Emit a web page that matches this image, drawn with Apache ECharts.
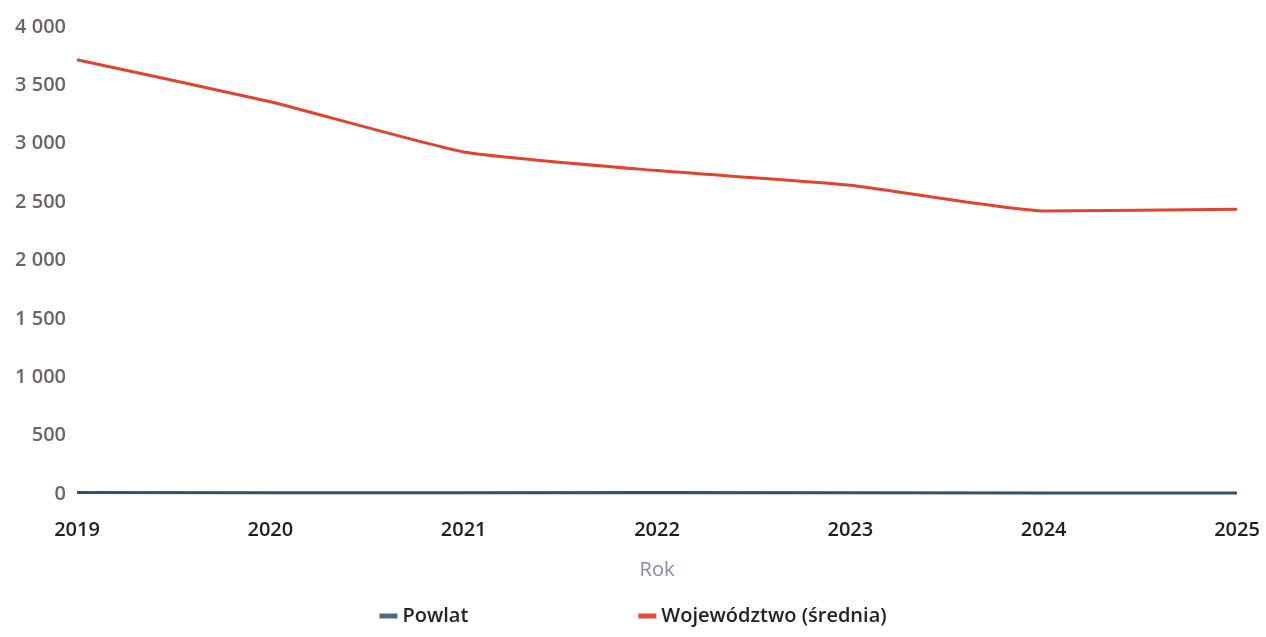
<!DOCTYPE html>
<html lang="pl">

<head>
    <meta charset="UTF-8">
    <title>Powlat / Województwo</title>
    <style>
        html, body { margin: 0; padding: 0; background: #ffffff; }
        #chart { width: 1266px; height: 637px; }
    </style>
</head>

<body>

    <div id="chart"></div>

    <script src="https://cdn.jsdelivr.net/npm/echarts@6/dist/echarts.min.js"></script>
    <script>
        // dane
        const years = ['2019', '2020', '2021', '2022', '2023', '2024', '2025'];
        const powlat = [12, 10, 11, 12, 10, 9, 9];
        const wojewodztwo = [3720, 3360, 2930, 2770, 2645, 2425, 2440];
        const yTicks = [0, 500, 1000, 1500, 2000, 2500, 3000, 3500, 4000];

        const myChart = echarts.init(document.getElementById('chart'));

        // "4 000" - spacja jako separator tysięcy
        function fmt(v) {
            return String(v).replace(/\B(?=(\d{3})+(?!\d))/g, ' ');
        }

        const option = {
            animation: false,
            textStyle: { fontFamily: 'Open Sans' },
            grid: {
                left: 77,
                right: 29,
                top: 27,
                bottom: 143
            },
            legend: {
                left: 'center',
                bottom: 6,
                itemWidth: 18,
                itemHeight: 5,
                itemGap: 170,
                icon: 'rect',
                textStyle: { fontSize: 20, fontWeight: 600, color: '#222222', fontFamily: 'Open Sans' },
                data: ['Powlat', 'Województwo (średnia)']
            },
            xAxis: {
                type: 'category',
                data: years,
                boundaryGap: false,
                name: 'Rok',
                nameLocation: 'middle',
                nameGap: 66,
                nameTextStyle: { fontSize: 20, color: '#8c85b5' },
                axisLine: { show: false },
                axisTick: { show: false },
                axisLabel: { fontSize: 20, fontWeight: 600, color: '#1e1e1e', margin: 26 }
            },
            yAxis: {
                type: 'value',
                min: yTicks[0],
                max: yTicks[yTicks.length - 1],
                interval: 500,
                splitLine: { show: false },
                axisLine: { show: false },
                axisTick: { show: false },
                axisLabel: {
                    fontSize: 20,
                    fontWeight: 600,
                    color: '#6e6369',
                    margin: 11,
                    formatter: fmt
                }
            },
            series: [{
                name: 'Powlat',
                type: 'line',
                data: powlat,
                showSymbol: false,
                lineStyle: { width: 3, color: '#34506b' },
                itemStyle: { color: '#4a6a85' }
            }, {
                name: 'Województwo (średnia)',
                type: 'line',
                data: wojewodztwo,
                smooth: 0.15,
                showSymbol: false,
                lineStyle: { width: 3, color: '#e2432f' },
                itemStyle: { color: '#e8493a' }
            }]
        };

        myChart.setOption(option);
    </script>
</body>

</html>
